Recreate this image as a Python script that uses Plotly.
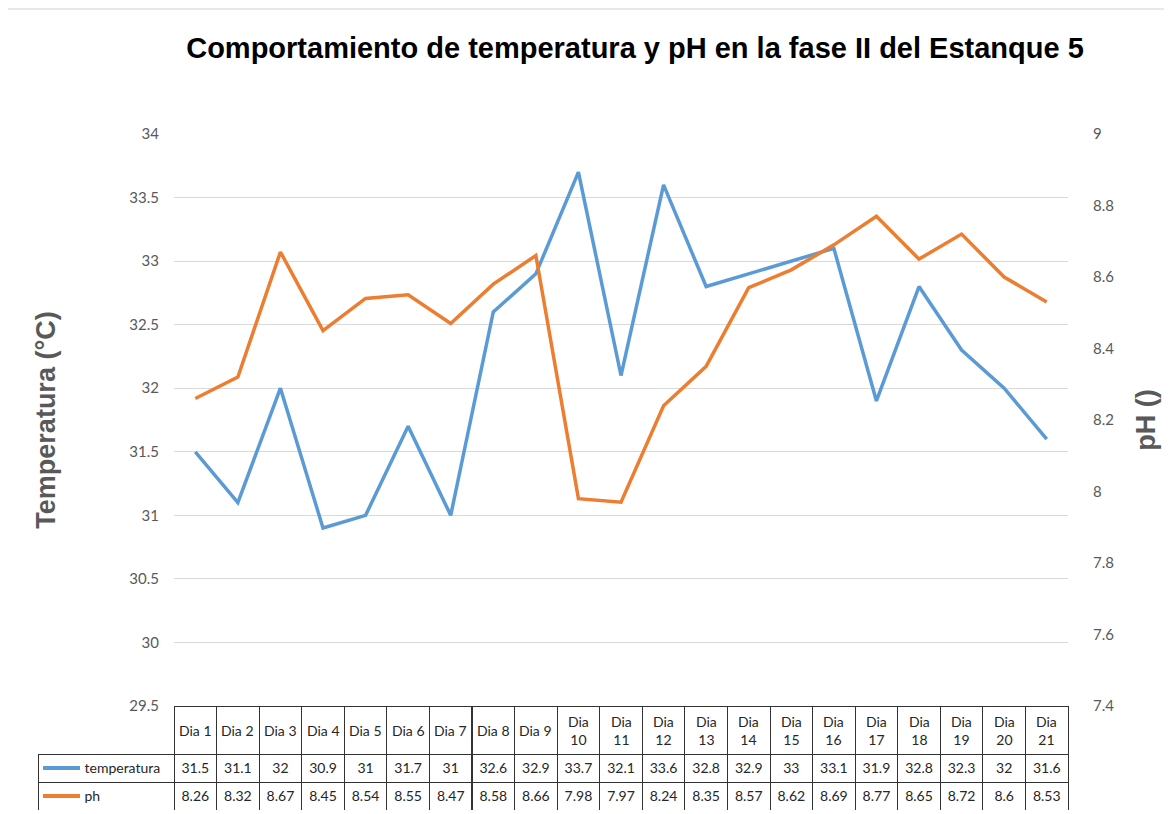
import plotly.graph_objects as go

# data
dias = [f"Dia {i}" for i in range(1, 22)]
temperatura = [31.5, 31.1, 32, 30.9, 31, 31.7, 31, 32.6, 32.9, 33.7, 32.1,
               33.6, 32.8, 32.9, 33, 33.1, 31.9, 32.8, 32.3, 32, 31.6]
ph = [8.26, 8.32, 8.67, 8.45, 8.54, 8.55, 8.47, 8.58, 8.66, 7.98, 7.97,
      8.24, 8.35, 8.57, 8.62, 8.69, 8.77, 8.65, 8.72, 8.6, 8.53]
series_names = ["temperatura", "ph"]

BLUE = "#5B9BD5"
ORANGE = "#ED7D31"
GRAY = "#595959"
TXT = "#262626"
BORDER = "#333333"
CLEAR = "rgba(0,0,0,0)"

# page body has an 8px margin, so the figure is 8px smaller each way
W, H = 1164, 806
ML, MR, MT, MB = 30, 104, 126, 4
plot_w = W - ML - MR
plot_h = H - MT - MB
first_w = 136          # legend column of the data table
head_h, row_h = 48, 28
table_h = head_h + 2 * row_h

fig = go.Figure()

fig.add_trace(go.Scatter(
    x=dias, y=temperatura, name=series_names[0], mode="lines",
    line=dict(color=BLUE, width=3.5), yaxis="y",
))
fig.add_trace(go.Scatter(
    x=dias, y=ph, name=series_names[1], mode="lines",
    line=dict(color=ORANGE, width=3.5), yaxis="y2",
))

# data table under the plot (header text is added as annotations below)
pad = "\u2003" * 3 + "\u2002"
first_col = [pad + n for n in series_names]
cols = [first_col] + [[f"{t:g}", f"{p:g}"] for t, p in zip(temperatura, ph)]

fig.add_trace(go.Table(
    domain=dict(x=[0, 1], y=[0, table_h / plot_h]),
    columnwidth=[first_w] + [(plot_w - first_w) / 21] * 21,
    header=dict(
        values=[""] * 22,
        height=head_h,
        fill_color=[CLEAR] + ["white"] * 21,
        line=dict(color=[CLEAR] + [BORDER] * 21, width=1),
    ),
    cells=dict(
        values=cols,
        height=row_h,
        align=["left"] + ["center"] * 21,
        fill_color="white",
        line=dict(color=BORDER, width=1),
        font=dict(family="Lato", size=14, color=TXT),
    ),
))

# header labels, vertically centred in the header row
for d in dias:
    fig.add_annotation(
        x=d, xref="x", y=(2 * row_h + head_h / 2) / plot_h, yref="paper",
        text=d if len(d) <= 5 else d.replace(" ", "<br>"),
        showarrow=False, xanchor="center", yanchor="middle",
        font=dict(family="Lato", size=14, color=TXT),
    )

# legend swatches in the table's first column
for i, c in enumerate([BLUE, ORANGE]):
    yy = (row_h * (1.5 - i)) / plot_h
    fig.add_shape(
        type="line", xref="paper", yref="paper",
        x0=5 / plot_w, x1=42 / plot_w, y0=yy, y1=yy,
        line=dict(color=c, width=4),
    )

fig.update_layout(
    width=W, height=H,
    margin=dict(l=ML, r=MR, t=MT, b=MB, autoexpand=False),
    paper_bgcolor="white", plot_bgcolor="white",
    showlegend=False,
    title=dict(
        text="<b>Comportamiento de temperatura y pH en la fase II del Estanque 5</b>",
        x=627 / W, xanchor="center", y=1 - 40 / H, yanchor="middle",
        font=dict(family="Liberation Sans", size=29, color="black"),
    ),
    xaxis=dict(
        domain=[first_w / plot_w, 1], automargin=False,
        type="category", range=[-0.5, 20.5],
        showticklabels=False, showgrid=False, zeroline=False, ticks="",
    ),
    yaxis=dict(
        domain=[table_h / plot_h, 1], automargin=False,
        range=[29.5, 34], dtick=0.5,
        showgrid=True, gridcolor="#d9d9d9", gridwidth=1, zeroline=False,
        tickfont=dict(family="Lato", size=15, color=GRAY),
        ticklabelstandoff=14,
        title=dict(text="<b>Temperatura (°C)</b>", standoff=65,
                   font=dict(family="Liberation Sans", size=27, color=GRAY)),
    ),
    yaxis2=dict(
        overlaying="y", side="right", automargin=False,
        range=[7.4, 9], dtick=0.2,
        showgrid=False, zeroline=False,
        tickfont=dict(family="Lato", size=15, color=GRAY),
        ticklabelstandoff=24,
        title=dict(text="<b>pH ()</b>", standoff=22,
                   font=dict(family="Liberation Sans", size=27, color=GRAY)),
    ),
)

# faint top border of the chart area
fig.add_shape(
    type="line", xref="paper", yref="paper",
    x0=-0.1, x1=1.2, y0=(H - MB - 1) / plot_h, y1=(H - MB - 1) / plot_h,
    line=dict(color="#d0d0d0", width=1), layer="below",
)

fig.write_html("out.html")
